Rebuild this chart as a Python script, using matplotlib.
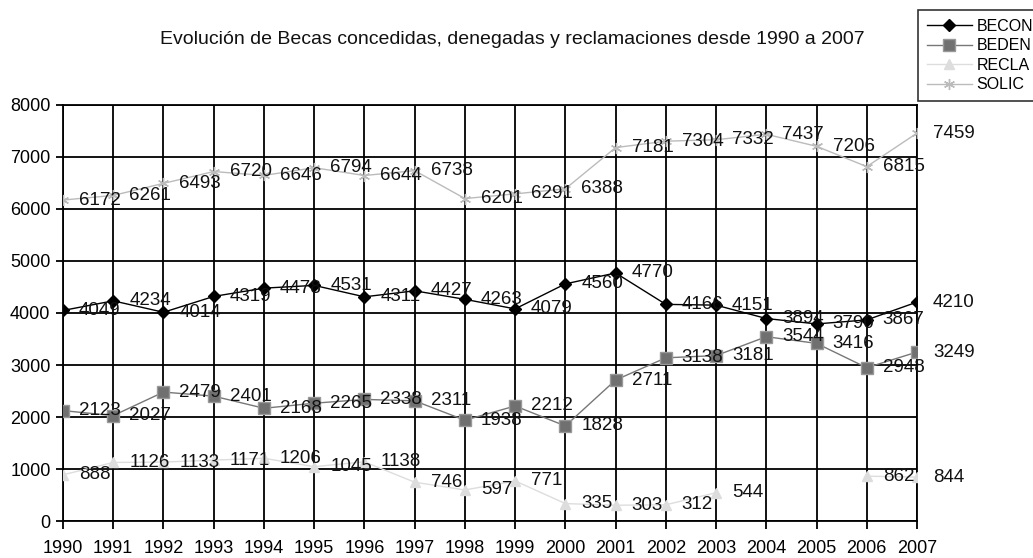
import numpy as np
import matplotlib
matplotlib.use("Agg")
import matplotlib.pyplot as plt

plt.rcParams['font.family'] = ['Liberation Sans', 'DejaVu Sans']

years = list(range(1990, 2008))
becon = [4049, 4234, 4014, 4319, 4478, 4531, 4311, 4427, 4263, 4079, 4560, 4770, 4166, 4151, 3894, 3790, 3867, 4210]
beden = [2123, 2027, 2479, 2401, 2168, 2265, 2338, 2311, 1938, 2212, 1828, 2711, 3138, 3181, 3544, 3416, 2948, 3249]
recla = [888, 1126, 1133, 1171, 1206, 1045, 1138, 746, 597, 771, 335, 303, 312, 544, np.nan, np.nan, 862, 844]
solic = [6172, 6261, 6493, 6720, 6646, 6794, 6644, 6738, 6201, 6291, 6388, 7181, 7304, 7332, 7437, 7206, 6815, 7459]
series_names = ["BECON", "BEDEN", "RECLA", "SOLIC"]
title = "Evolución de Becas concedidas, denegadas y reclamaciones desde 1990 a 2007"

fig = plt.figure(figsize=(10.33, 5.58), dpi=100)
ax = fig.add_axes([63/1033, 1-521/558, (917-63)/1033, (521-105)/558])

styles = [
    dict(color='black', lw=1.0, marker='D', ms=6, mfc='black', mec='black'),
    dict(color='#777777', lw=1.0, marker='s', ms=9, mfc='#707070', mec='#999999'),
    dict(color='#dddddd', lw=1.0, marker='^', ms=7, mfc='#dddddd', mec='#dddddd'),
    dict(color='#bbbbbb', lw=1.0, marker=(6, 2, 0), ms=8, mew=1.0, mfc='#bbbbbb', mec='#bbbbbb'),
]
data = [becon, beden, recla, solic]
lines = []
for name, vals, st in zip(series_names, data, styles):
    l, = ax.plot(years, vals, label=name, zorder=4, **st)
    lines.append(l)
    for x, v in zip(years, vals):
        if np.isnan(v):
            continue
        ax.annotate(f"{int(v)}", (x, v), xytext=(11.5, 0), textcoords='offset points',
                    ha='left', va='center', fontsize=13.5, color='#111111', zorder=5)

ax.set_xlim(1990, 2007)
ax.set_ylim(0, 8000)
ax.set_xticks(years)
ax.set_yticks(range(0, 8001, 1000))
ax.grid(True, color='black', lw=1.3)
ax.set_axisbelow(True)
for s in ax.spines.values():
    s.set_color('black')
    s.set_linewidth(1.3)
ax.tick_params(axis='both', labelsize=13, length=5, width=1.3, colors='black')
ax.tick_params(axis='x', pad=8, length=6)
ax.tick_params(axis='y', pad=4)

fig.text(0.496, 1-40/558, title, ha='center', va='center', fontsize=14, color='#111111')

leg = fig.legend(handles=lines, loc='upper left', bbox_to_anchor=(918/1033, 1-10/558),
                 frameon=True, fancybox=False, edgecolor='black', fontsize=11.5,
                 handlelength=2.8, handletextpad=0.3, labelspacing=0.28, borderpad=0.55,
                 borderaxespad=0)
leg.get_frame().set_linewidth(1.2)

fig.savefig("out.png", dpi=100)
